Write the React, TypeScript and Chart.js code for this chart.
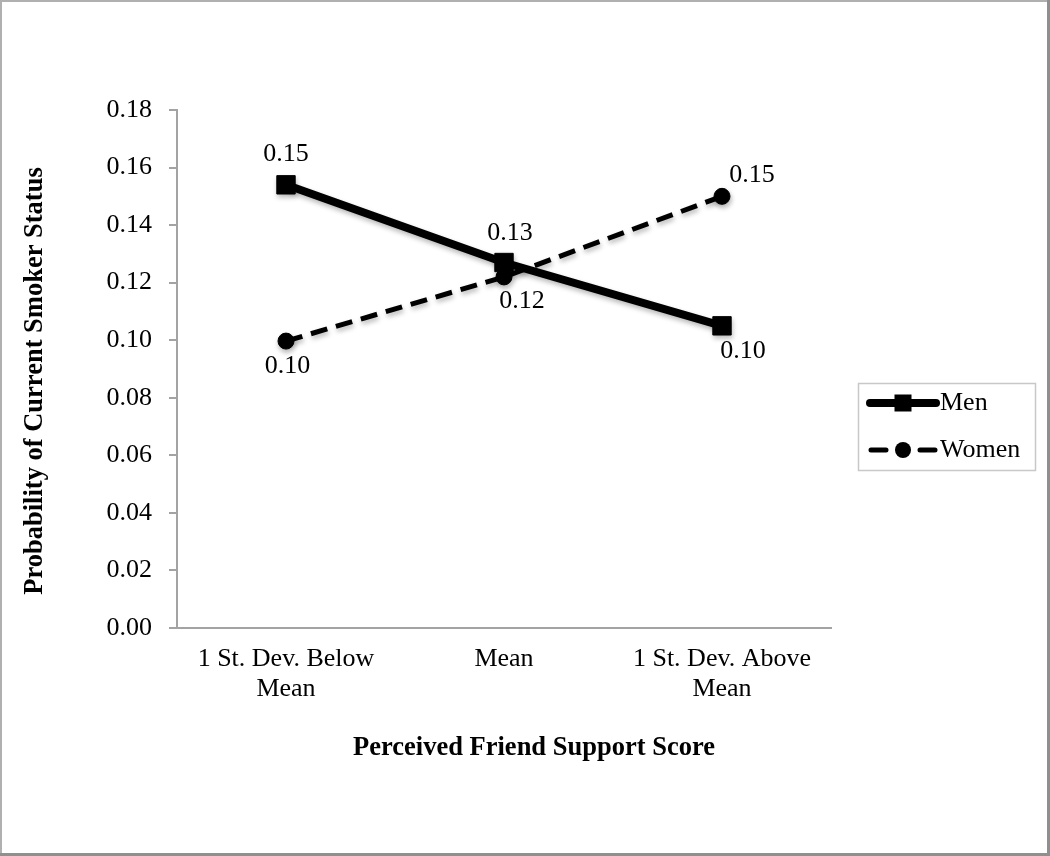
import React, { useEffect, useRef } from "react";
import { Chart, registerables } from "chart.js";

Chart.register(...registerables);

// ---- data ----
const categories: (string | string[])[] = [
  ["1 St. Dev. Below", "Mean"],
  "Mean",
  ["1 St. Dev. Above", "Mean"],
];
const seriesNames = ["Men", "Women"];
const menValues = [0.154, 0.127, 0.105];
const womenValues = [0.0997, 0.122, 0.15];
const yTickValues = [0, 0.02, 0.04, 0.06, 0.08, 0.1, 0.12, 0.14, 0.16, 0.18];
const yAxisTitle = "Probability of Current Smoker Status";
const xAxisTitle = "Perceived Friend Support Score";

// ---- style ----
const FONT = "'Liberation Serif', 'Times New Roman', serif";
const AXIS_GRAY = "#a3a3a3";
// label offsets (dx, dy) relative to each point, per dataset
const LABEL_OFFSETS = [
  [[0, -31], [6, -29], [21, 25]],
  [[1.5, 25], [18, 24.5], [30, -21]],
];

const W = 1050;
const H = 856;

const framePlugin = {
  id: "frame",
  beforeDraw(chart: any) {
    const ctx = chart.ctx;
    ctx.save();
    ctx.fillStyle = "#ffffff";
    ctx.fillRect(0, 0, W, H);
    ctx.fillStyle = "#b0b0b0";
    ctx.fillRect(0, 0, W, 2);
    ctx.fillRect(0, 0, 2, H);
    ctx.fillStyle = "#8f8f8f";
    ctx.fillRect(W - 3, 0, 3, H);
    ctx.fillRect(0, H - 3, W, 3);
    ctx.restore();
  },
};

const shadowPlugin = {
  id: "markShadow",
  beforeDatasetDraw(chart: any) {
    const ctx = chart.ctx;
    ctx.save();
    ctx.shadowColor = "rgba(0,0,0,0.28)";
    ctx.shadowBlur = 5;
    ctx.shadowOffsetX = 1;
    ctx.shadowOffsetY = 3;
  },
  afterDatasetDraw(chart: any) {
    chart.ctx.restore();
  },
};

const labelsPlugin = {
  id: "valueLabels",
  afterDatasetsDraw(chart: any) {
    const ctx = chart.ctx;
    ctx.save();
    ctx.font = `26px ${FONT}`;
    ctx.fillStyle = "#000";
    ctx.textAlign = "center";
    ctx.textBaseline = "middle";
    chart.data.datasets.forEach((ds: any, di: number) => {
      const meta = chart.getDatasetMeta(di);
      meta.data.forEach((pt: any, i: number) => {
        const [dx, dy] = LABEL_OFFSETS[di][i];
        ctx.fillText(Number(ds.data[i]).toFixed(2), pt.x + dx, pt.y + dy);
      });
    });
    ctx.restore();
  },
};

const titlesPlugin = {
  id: "axisTitles",
  afterDraw(chart: any) {
    const ctx = chart.ctx;
    ctx.save();
    ctx.font = `bold 26.5px ${FONT}`;
    ctx.fillStyle = "#000";
    ctx.textAlign = "center";
    ctx.textBaseline = "middle";
    ctx.fillText(xAxisTitle, 534, 748);
    ctx.translate(35, 381);
    ctx.rotate(-Math.PI / 2);
    ctx.fillText(yAxisTitle, 0, 0);
    ctx.restore();
  },
};

const legendPlugin = {
  id: "boxLegend",
  afterDraw(chart: any) {
    const ctx = chart.ctx;
    const ds = chart.data.datasets;
    ctx.save();
    ctx.strokeStyle = "#c8c8c8";
    ctx.lineWidth = 1.5;
    ctx.strokeRect(858.5, 383.5, 177, 87);

    const rows = [403, 450];
    // Men
    ctx.strokeStyle = "#000";
    ctx.fillStyle = "#000";
    ctx.lineCap = "round";
    ctx.lineWidth = ds[0].borderWidth;
    ctx.beginPath();
    ctx.moveTo(870, rows[0]);
    ctx.lineTo(936, rows[0]);
    ctx.stroke();
    ctx.fillRect(903 - 8.5, rows[0] - 8.5, 17, 17);
    // Women
    ctx.lineWidth = ds[1].borderWidth;
    ctx.beginPath();
    ctx.moveTo(871, rows[1]);
    ctx.lineTo(886, rows[1]);
    ctx.moveTo(920, rows[1]);
    ctx.lineTo(935, rows[1]);
    ctx.stroke();
    ctx.beginPath();
    ctx.arc(903, rows[1], 8, 0, Math.PI * 2);
    ctx.fill();

    ctx.font = `26px ${FONT}`;
    ctx.textAlign = "left";
    ctx.textBaseline = "middle";
    ctx.fillText(ds[0].label, 940, rows[0]);
    ctx.fillText(ds[1].label, 940, rows[1]);
    ctx.restore();
  },
};

export default function App() {
  const ref = useRef<HTMLCanvasElement | null>(null);

  useEffect(() => {
    if (!ref.current) return;
    const chart = new Chart(ref.current, {
      type: "line",
      data: {
        labels: categories as any,
        datasets: [
          {
            label: seriesNames[0],
            data: menValues,
            borderColor: "#000",
            backgroundColor: "#000",
            borderWidth: 8,
            tension: 0,
            pointStyle: "rect",
            pointRadius: 13,
            pointBorderWidth: 1,
            pointBorderColor: "#000",
            pointBackgroundColor: "#000",
          },
          {
            label: seriesNames[1],
            data: womenValues,
            borderColor: "#000",
            backgroundColor: "#000",
            borderWidth: 5,
            borderDash: [17, 9],
            tension: 0,
            pointStyle: "circle",
            pointRadius: 8,
            pointBorderWidth: 1,
            pointBorderColor: "#000",
            pointBackgroundColor: "#000",
          },
        ],
      },
      options: {
        responsive: false,
        animation: false,
        devicePixelRatio: 1,
        events: [],
        layout: { padding: { left: 0, right: 219, top: 110, bottom: 0 } },
        plugins: {
          legend: { display: false },
          tooltip: { enabled: false },
          title: { display: false },
        },
        scales: {
          x: {
            type: "category",
            offset: true,
            grid: { display: true, drawOnChartArea: false, drawTicks: false },
            border: { display: true, color: AXIS_GRAY, width: 2 },
            ticks: {
              color: "#000",
              font: { family: FONT, size: 26, lineHeight: 30 / 26 },
              padding: 16,
              maxRotation: 0,
              autoSkip: false,
            },
            afterFit(scale: any) {
              scale.height = H - 628;
            },
          },
          y: {
            min: 0,
            max: 0.18,
            grid: {
              display: true,
              drawOnChartArea: false,
              drawTicks: true,
              tickLength: 8,
              color: AXIS_GRAY,
              lineWidth: 2,
            },
            border: { display: true, color: AXIS_GRAY, width: 2 },
            ticks: {
              color: "#000",
              font: { family: FONT, size: 26 },
              padding: 17,
              callback: (v: any) => Number(v).toFixed(2),
            },
            afterBuildTicks(scale: any) {
              scale.ticks = yTickValues.map((v) => ({ value: v }));
            },
            afterFit(scale: any) {
              scale.width = 177;
            },
          },
        },
      },
      plugins: [framePlugin, shadowPlugin, labelsPlugin, titlesPlugin, legendPlugin],
    } as any);
    return () => chart.destroy();
  }, []);

  return (
    <div style={{ position: "absolute", left: 0, top: 0, width: W, height: H }}>
      <canvas ref={ref} width={W} height={H} style={{ display: "block", width: W, height: H }} />
    </div>
  );
}
